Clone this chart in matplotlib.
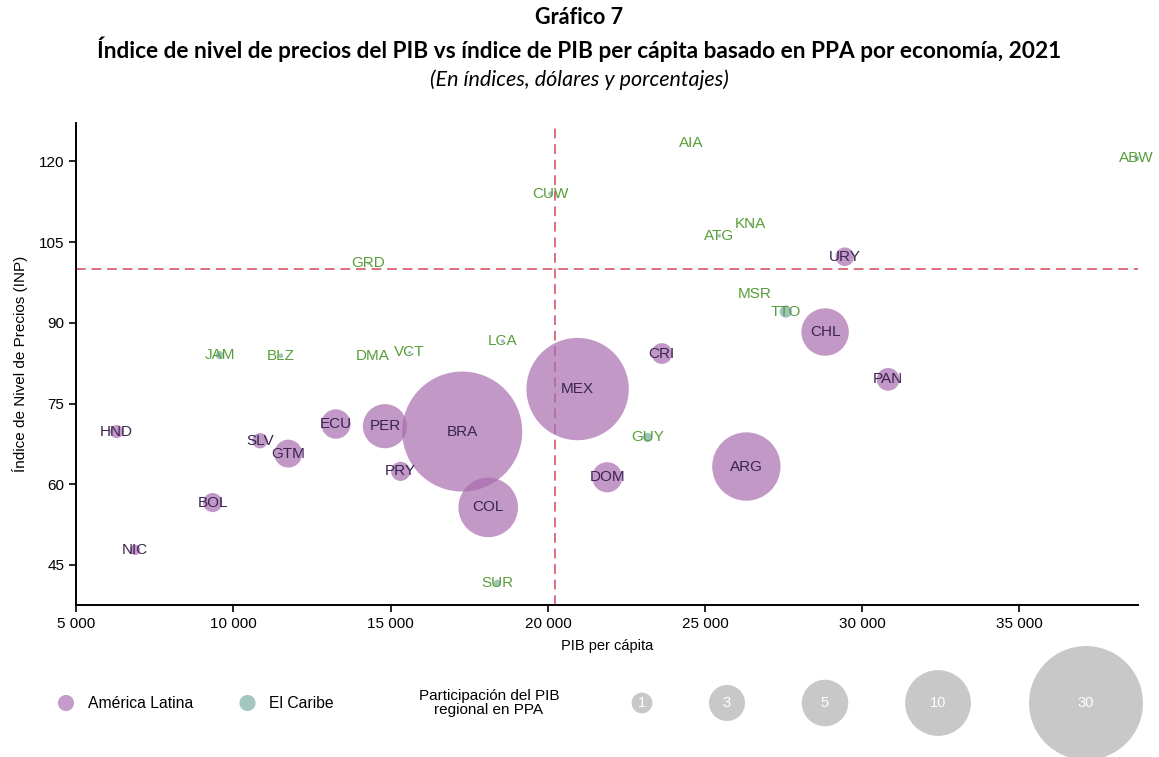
import numpy as np
import matplotlib
matplotlib.use("Agg")
import matplotlib.pyplot as plt

plt.rcParams["font.family"] = ["Liberation Sans", "DejaVu Sans"]

# América Latina
la_codes = ["HND", "NIC", "BOL", "SLV", "GTM", "ECU", "PER", "PRY", "BRA",
            "COL", "MEX", "DOM", "CRI", "ARG", "CHL", "URY", "PAN"]
la_pib = [6285, 6867, 9338, 10842, 11742, 13258, 14817, 15316, 17275,
          18102, 20945, 21886, 23625, 26313, 28818, 29445, 30822]
la_inp = [69.8, 47.8, 56.6, 68.1, 65.7, 71.2, 70.8, 62.4, 69.8,
          55.7, 77.7, 61.3, 84.3, 63.3, 88.3, 102.3, 79.5]
la_share = [0.4, 0.25, 0.85, 0.55, 1.8, 2.0, 4.5, 0.85, 33.3,
            8.2, 24.2, 2.1, 1.0, 10.8, 5.2, 0.8, 1.2]

# El Caribe
cb_codes = ["JAM", "BLZ", "DMA", "VCT", "LCA", "GRD", "CUW", "AIA", "ABW",
            "ATG", "KNA", "MSR", "TTO", "GUY", "SUR"]
cb_pib = [9560, 11510, 14436, 15600, 18560, 14286, 20086, 24548, 38730,
          25447, 26455, 26592, 27569, 23170, 18390]
cb_inp = [84.0, 83.9, 83.9, 84.5, 86.6, 101.1, 114.0, 123.5, 120.6,
          106.2, 108.4, 95.4, 92.1, 68.7, 41.6]
cb_share = [0.15, 0.05, 0.01, 0.02, 0.03, 0.02, 0.05, 0.005, 0.06,
            0.03, 0.02, 0.002, 0.35, 0.2, 0.12]

ref_pib = 20230   # promedio regional PIB per cápita
ref_inp = 100

legend_vals = [1, 3, 5, 10, 30]

DPI = 100
R1 = 10.4  # radius in px of share = 1


def bubble_s(v):
    r = R1 * np.sqrt(np.asarray(v, dtype=float))
    return (2 * r * 72 / DPI) ** 2


purple = "#A96CB0"
teal = "#77ABA2"
la_txt = "#3A2450"
cb_txt = "#589E38"
line_c = "#D9707C"

fig = plt.figure(figsize=(11.59, 7.57), dpi=DPI)
ax = fig.add_axes([76.3 / 1159, 1 - 605 / 757, (1138 - 76.3) / 1159, (605 - 123.3) / 757])

ax.axvline(ref_pib, color=line_c, ls=(0, (5, 3)), lw=1.4, zorder=1)
ax.axhline(ref_inp, color=line_c, ls=(0, (5, 3)), lw=1.4, zorder=1)

ax.scatter(la_pib, la_inp, s=bubble_s(la_share), color=purple, alpha=0.7,
           edgecolors="none", zorder=2, clip_on=False)
ax.scatter(cb_pib, cb_inp, s=bubble_s(cb_share), color=teal, alpha=0.7,
           edgecolors="none", zorder=2, clip_on=False)

for c, x, y in zip(la_codes, la_pib, la_inp):
    ax.text(x, y, c, color=la_txt, fontsize=11, ha="center", va="center",
            zorder=3, clip_on=False)
for c, x, y in zip(cb_codes, cb_pib, cb_inp):
    ax.text(x, y, c, color=cb_txt, fontsize=11, ha="center", va="center",
            zorder=3, clip_on=False)

ax.set_xlim(5000, 38770)
ax.set_ylim(37.56, 127.1)
ax.set_xticks(np.arange(5000, 35001, 5000))
ax.set_xticklabels([f"{v:,}".replace(",", " ") for v in range(5000, 35001, 5000)])
ax.set_yticks([45, 60, 75, 90, 105, 120])
ax.tick_params(labelsize=11, length=5, width=1.2, direction="out")
for sp in ["top", "right"]:
    ax.spines[sp].set_visible(False)
for sp in ["left", "bottom"]:
    ax.spines[sp].set_linewidth(1.4)
ax.set_xlabel("PIB per cápita", fontsize=10.5, labelpad=6)
ax.set_ylabel("Índice de Nivel de Precios (INP)", fontsize=11, labelpad=8)

# titles
fig.text(0.5, 1 - 18 / 757, "Gráfico 7", ha="center", va="center",
         fontsize=15.5, fontweight="bold", family="Lato")
fig.text(0.5, 1 - 49 / 757,
         "Índice de nivel de precios del PIB vs índice de PIB per cápita basado en PPA por economía, 2021",
         ha="center", va="center", fontsize=16.3, fontweight="bold", family="Lato")
fig.text(0.5, 1 - 80 / 757, "(En índices, dólares y porcentajes)", ha="center",
         va="center", fontsize=15.5, style="italic", family="Lato")

# legend strip in pixel coordinates
lax = fig.add_axes([0, 0, 1, 1], facecolor="none")
lax.set_xlim(0, 1159)
lax.set_ylim(757, 0)
lax.axis("off")
ly = 703
lax.scatter([66], [ly], s=bubble_s(0.6), color="#C59BCB", edgecolors="none")
lax.text(88, ly, "América Latina", fontsize=11.3, va="center", ha="left")
lax.scatter([247.5], [ly], s=bubble_s(0.6), color="#A3C6C0", edgecolors="none")
lax.text(269, ly, "El Caribe", fontsize=11.3, va="center", ha="left")
lax.text(489, ly, "Participación del PIB\nregional en PPA", fontsize=11,
         va="center", ha="center", linespacing=1.0)
lx = [642, 727, 825, 938, 1086]
lax.scatter(lx, [ly] * len(lx), s=bubble_s(legend_vals), color="#C8C8C8",
            edgecolors="none", clip_on=False)
for x, v in zip(lx, legend_vals):
    lax.text(x, ly, str(v), color="white", fontsize=10.5, ha="center", va="center")

fig.savefig("out.png", dpi=DPI)
